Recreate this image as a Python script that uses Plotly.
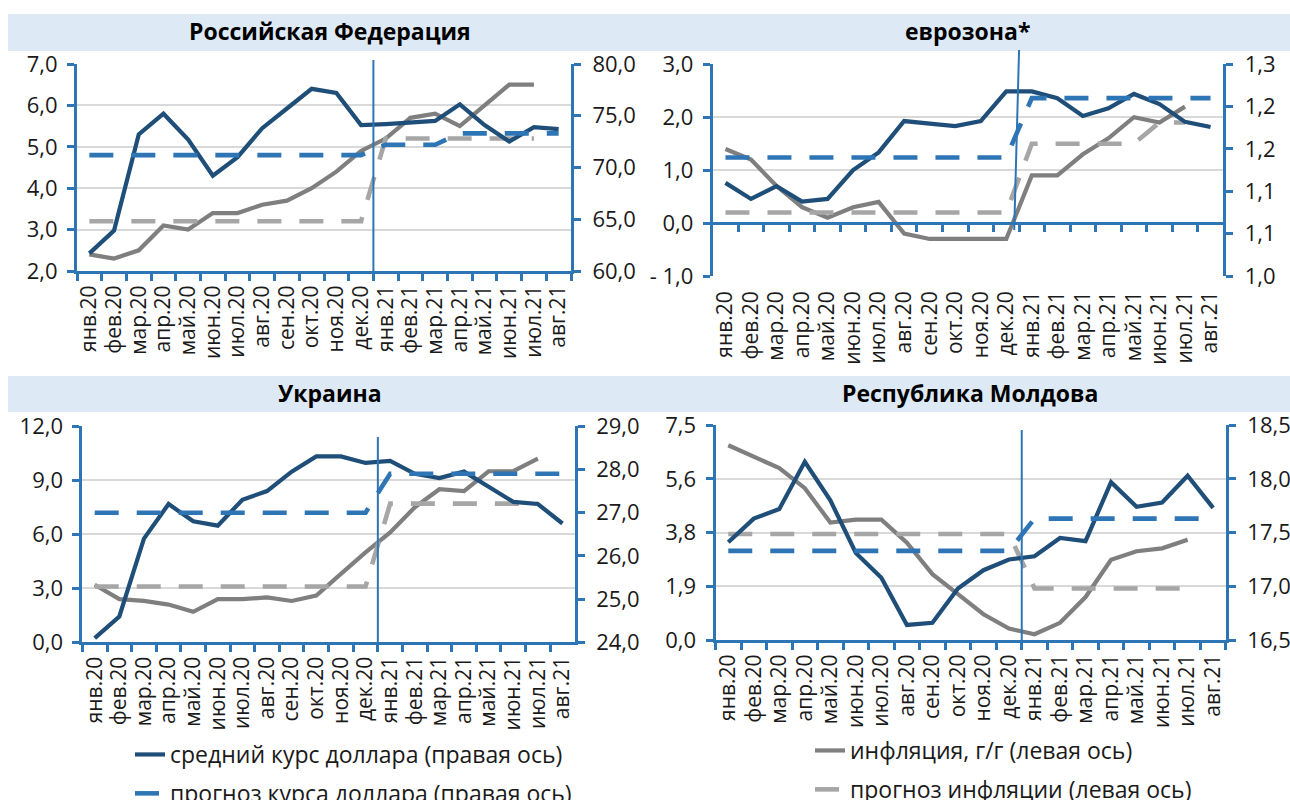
import plotly.graph_objects as go

# ---------------- data ----------------
months = ["янв.20", "фев.20", "мар.20", "апр.20", "май.20", "июн.20", "июл.20", "авг.20",
          "сен.20", "окт.20", "ноя.20", "дек.20", "янв.21", "фев.21", "мар.21", "апр.21",
          "май.21", "июн.21", "июл.21", "авг.21"]

# Russia
ru_usd = [61.7, 63.9, 73.2, 75.2, 72.7, 69.2, 71.0, 73.8, 75.7, 77.6, 77.2, 74.1,
          74.2, 74.4, 74.5, 76.1, 74.1, 72.5, 73.9, 73.7]
ru_usd_fc = [71.2, 71.2, 71.2, 71.2, 71.2, 71.2, 71.2, 71.2, 71.2, 71.2, 71.2, 71.2,
             72.2, 72.2, 72.2, 73.3, 73.3, 73.3, 73.3, 73.3]
ru_infl = [2.4, 2.3, 2.5, 3.1, 3.0, 3.4, 3.4, 3.6, 3.7, 4.0, 4.4, 4.9,
           5.2, 5.7, 5.8, 5.5, 6.0, 6.5, 6.5, None]
ru_infl_fc = [3.2, 3.2, 3.2, 3.2, 3.2, 3.2, 3.2, 3.2, 3.2, 3.2, 3.2, 3.2,
              5.2, 5.2, 5.2, 5.2, 5.2, 5.2, 5.2, None]

# Euro area
eu_usd = [1.110, 1.091, 1.106, 1.088, 1.091, 1.125, 1.146, 1.183, 1.180, 1.177, 1.183, 1.218,
          1.218, 1.210, 1.189, 1.198, 1.215, 1.203, 1.182, 1.176]
eu_usd_fc = [1.140, 1.140, 1.140, 1.140, 1.140, 1.140, 1.140, 1.140, 1.140, 1.140, 1.140, 1.140,
             1.210, 1.210, 1.210, 1.210, 1.210, 1.210, 1.210, 1.210]
eu_infl = [1.4, 1.2, 0.7, 0.3, 0.1, 0.3, 0.4, -0.2, -0.3, -0.3, -0.3, -0.3,
           0.9, 0.9, 1.3, 1.6, 2.0, 1.9, 2.2, None]
eu_infl_fc = [0.2, 0.2, 0.2, 0.2, 0.2, 0.2, 0.2, 0.2, 0.2, 0.2, 0.2, 0.2,
              1.5, 1.5, 1.5, 1.5, 1.5, 1.9, 1.9, None]

# Ukraine
ua_usd = [24.1, 24.6, 26.4, 27.2, 26.8, 26.7, 27.3, 27.5, 27.95, 28.3, 28.3, 28.15,
          28.2, 27.9, 27.8, 27.95, 27.6, 27.25, 27.2, 26.75]
ua_usd_fc = [27.0, 27.0, 27.0, 27.0, 27.0, 27.0, 27.0, 27.0, 27.0, 27.0, 27.0, 27.0,
             27.9, 27.9, 27.9, 27.9, 27.9, 27.9, 27.9, 27.9]
ua_infl = [3.2, 2.4, 2.3, 2.1, 1.7, 2.4, 2.4, 2.5, 2.3, 2.6, 3.8, 5.0,
           6.1, 7.5, 8.5, 8.4, 9.5, 9.5, 10.2, None]
ua_infl_fc = [3.1, 3.1, 3.1, 3.1, 3.1, 3.1, 3.1, 3.1, 3.1, 3.1, 3.1, 3.1,
              7.7, 7.7, 7.7, 7.7, 7.7, 7.7, 7.7, None]

# Moldova
md_usd = [17.41, 17.63, 17.72, 18.16, 17.80, 17.31, 17.08, 16.64, 16.66, 16.98, 17.15, 17.25,
          17.28, 17.45, 17.42, 17.97, 17.74, 17.78, 18.03, 17.73]
md_usd_fc = [17.33, 17.33, 17.33, 17.33, 17.33, 17.33, 17.33, 17.33, 17.33, 17.33, 17.33, 17.33,
             17.63, 17.63, 17.63, 17.63, 17.63, 17.63, 17.63, 17.63]
md_infl = [6.8, 6.4, 6.0, 5.3, 4.1, 4.2, 4.2, 3.4, 2.3, 1.6, 0.9, 0.4,
           0.2, 0.6, 1.5, 2.8, 3.1, 3.2, 3.5, None]
md_infl_fc = [3.7, 3.7, 3.7, 3.7, 3.7, 3.7, 3.7, 3.7, 3.7, 3.7, 3.7, 3.7,
              1.8, 1.8, 1.8, 1.8, 1.8, 1.8, 1.8, None]

titles = ["Российская Федерация", "еврозона*", "Украина", "Республика Молдова"]

ru_left_vals = [2, 3, 4, 5, 6, 7]
ru_left_text = ["2,0", "3,0", "4,0", "5,0", "6,0", "7,0"]
ru_right_vals = [60, 65, 70, 75, 80]
ru_right_text = ["60,0", "65,0", "70,0", "75,0", "80,0"]
eu_left_vals = [-1, 0, 1, 2, 3]
eu_left_text = ["- 1,0", "0,0", "1,0", "2,0", "3,0"]
eu_right_vals = [1.0, 1.05, 1.10, 1.15, 1.20, 1.25]
eu_right_text = ["1,0", "1,1", "1,1", "1,2", "1,2", "1,3"]
ua_left_vals = [0, 3, 6, 9, 12]
ua_left_text = ["0,0", "3,0", "6,0", "9,0", "12,0"]
ua_right_vals = [24, 25, 26, 27, 28, 29]
ua_right_text = ["24,0", "25,0", "26,0", "27,0", "28,0", "29,0"]
md_left_vals = [0, 1.875, 3.75, 5.625, 7.5]
md_left_text = ["0,0", "1,9", "3,8", "5,6", "7,5"]
md_right_vals = [16.5, 17.0, 17.5, 18.0, 18.5]
md_right_text = ["16,5", "17,0", "17,5", "18,0", "18,5"]

legend_names = ["средний курс доллара (правая ось)", "прогноз курса доллара (правая ось)",
                "инфляция, г/г (левая ось)", "прогноз инфляции (левая ось)"]

# ---------------- style ----------------
W, H = 1290, 800
NAVY, BLUE, GREY, LGREY = "#1f4e79", "#2e75b6", "#7f7f7f", "#a6a6a6"
AXIS, GRID, BAR = "#2e75b6", "#d9d9d9", "#dde9f5"
FONT = "Open Sans"
TXT = "#1a1a1a"
DASH = "24px,18px"


def fx(p):
    return p / W


def fy(p):
    return 1 - p / H


panels = [
    dict(x="x", yl="y", yr="y2", xd=(77, 571), yd=(271, 64),
         lr=(2, 7), lv=ru_left_vals, lt=ru_left_text, rr=(60, 80), rv=ru_right_vals, rt=ru_right_text,
         usd=ru_usd, usd_fc=ru_usd_fc, infl=ru_infl, infl_fc=ru_infl_fc,
         vline=((0.6, 60), (0.6, 271))),
    dict(x="x2", yl="y3", yr="y4", xd=(712.7, 1223.3), yd=(276, 64.3),
         lr=(-1, 3), lv=eu_left_vals, lt=eu_left_text, rr=(1.0, 1.25), rv=eu_right_vals, rt=eu_right_text,
         usd=eu_usd, usd_fc=eu_usd_fc, infl=eu_infl, infl_fc=eu_infl_fc,
         vline=((0.6, 50), (0.5905, 230))),
    dict(x="x3", yl="y5", yr="y6", xd=(82.4, 574.8), yd=(642.4, 426.2),
         lr=(0, 12), lv=ua_left_vals, lt=ua_left_text, rr=(24, 29), rv=ua_right_vals, rt=ua_right_text,
         usd=ua_usd, usd_fc=ua_usd_fc, infl=ua_infl, infl_fc=ua_infl_fc,
         vline=((0.6, 437), (0.6, 642.4))),
    dict(x="x4", yl="y7", yr="y8", xd=(715.5, 1225.9), yd=(640, 425.2),
         lr=(0, 7.5), lv=md_left_vals, lt=md_left_text, rr=(16.5, 18.5), rv=md_right_vals, rt=md_right_text,
         usd=md_usd, usd_fc=md_usd_fc, infl=md_infl, infl_fc=md_infl_fc,
         vline=((0.6, 430), (0.6, 640))),
]

fig = go.Figure()
layout = {}
shapes = []
annotations = []


def axname(ref):
    return ref[0] + "axis" + ref[1:]


for k, p in enumerate(panels):
    first = k == 0
    fig.add_trace(go.Scatter(x=months, y=p["infl"], xaxis=p["x"], yaxis=p["yl"], mode="lines",
                             line=dict(color=GREY, width=4.2), name=legend_names[2],
                             legend="legend2", legendgroup="g3", showlegend=first))
    fig.add_trace(go.Scatter(x=months, y=p["infl_fc"], xaxis=p["x"], yaxis=p["yl"], mode="lines",
                             line=dict(color=LGREY, width=4.6, dash=DASH), name=legend_names[3],
                             legend="legend2", legendgroup="g4", showlegend=first))
    fig.add_trace(go.Scatter(x=months, y=p["usd"], xaxis=p["x"], yaxis=p["yr"], mode="lines",
                             line=dict(color=NAVY, width=4.2), name=legend_names[0],
                             legend="legend", legendgroup="g1", showlegend=first))
    fig.add_trace(go.Scatter(x=months, y=p["usd_fc"], xaxis=p["x"], yaxis=p["yr"], mode="lines",
                             line=dict(color=BLUE, width=4.6, dash=DASH), name=legend_names[1],
                             legend="legend", legendgroup="g2", showlegend=first))

    is_euro = k == 1
    xa = dict(type="category", categoryorder="array", categoryarray=months,
              tickmode="array", tickvals=months, ticktext=months,
              domain=[fx(p["xd"][0]), fx(p["xd"][1])], anchor=p["yl"],
              range=[-0.5, len(months) - 0.5],
              showline=not is_euro, linecolor=AXIS, linewidth=3,
              ticks="" if is_euro else "outside", tickson="boundaries", ticklen=7, tickwidth=3,
              tickcolor=AXIS, tickangle=-90, tickfont=dict(size=21, color=TXT, family=FONT),
              showgrid=False, zeroline=False, ticklabelstandoff=3 if not is_euro else 10)
    layout[axname(p["x"])] = xa
    ya = dict(domain=[fy(p["yd"][0]), fy(p["yd"][1])], anchor=p["x"], range=list(p["lr"]),
              tickvals=p["lv"], ticktext=p["lt"], showline=True, linecolor=AXIS, linewidth=3,
              ticks="outside", ticklen=7, tickwidth=3, tickcolor=AXIS,
              tickfont=dict(size=22, color=TXT, family=FONT), ticklabelstandoff=5,
              showgrid=True, gridcolor=GRID, gridwidth=2, zeroline=False)
    layout[axname(p["yl"])] = ya
    yb = dict(domain=[fy(p["yd"][0]), fy(p["yd"][1])], anchor=p["x"], overlaying=p["yl"], side="right",
              range=list(p["rr"]), tickvals=p["rv"], ticktext=p["rt"], showline=True, linecolor=AXIS,
              linewidth=3, ticks="outside", ticklen=7, tickwidth=3, tickcolor=AXIS,
              tickfont=dict(size=22, color=TXT, family=FONT), ticklabelstandoff=7,
              showgrid=False, zeroline=False)
    layout[axname(p["yr"])] = yb

    # vertical separator between 2020 and 2021 (boundary dec.20 / jan.21)
    (xt, yt), (xb, yb_) = p["vline"]
    shapes.append(dict(type="line", xref=p["x"] + " domain", yref="paper",
                       x0=xt, y0=fy(yt), x1=xb, y1=fy(yb_),
                       line=dict(color=BLUE, width=2), layer="above"))

# zero-line x axis of the euro panel, drawn at y = 0
pe = panels[1]
lo, hi = pe["lr"]
d0, d1 = fy(pe["yd"][0]), fy(pe["yd"][1])
zero_pos = d0 + (0 - lo) / (hi - lo) * (d1 - d0)
layout["xaxis5"] = dict(domain=[fx(pe["xd"][0]), fx(pe["xd"][1])], overlaying="x2", anchor="free",
                        position=zero_pos, range=[-0.5, len(months) - 0.5],
                        tickvals=[i + 0.5 for i in range(len(months) - 1)],
                        showticklabels=False, showline=True, linecolor=AXIS, linewidth=3,
                        ticks="outside", ticklen=7, tickwidth=3, tickcolor=AXIS,
                        showgrid=False, zeroline=False)
fig.add_trace(go.Scatter(x=[], y=[], xaxis="x5", yaxis="y3", showlegend=False, hoverinfo="skip"))

# title bars
for top, bot in [(14, 51), (376, 412)]:
    shapes.append(dict(type="rect", xref="paper", yref="paper", x0=fx(8), x1=1,
                       y0=fy(bot), y1=fy(top), fillcolor=BAR, line=dict(width=0), layer="below"))

title_pos = [(330, 31), (968, 31), (330, 393), (970, 393)]
for t, (cx, cy) in zip(titles, title_pos):
    annotations.append(dict(text=t, x=fx(cx), y=fy(cy), xref="paper", yref="paper",
                            showarrow=False, xanchor="center", yanchor="middle",
                            font=dict(size=23, color="#000000", family=FONT, weight="bold")))

fig.update_layout(
    width=W, height=H, margin=dict(l=0, r=0, t=0, b=0, autoexpand=False),
    paper_bgcolor="white", plot_bgcolor="rgba(0,0,0,0)",
    font=dict(family=FONT, color=TXT),
    shapes=shapes, annotations=annotations,
    legend=dict(x=fx(130), y=fy(733), xanchor="left", yanchor="top", orientation="v",
                font=dict(size=23, color=TXT, family=FONT), bgcolor="rgba(0,0,0,0)",
                tracegroupgap=6, traceorder="grouped"),
    legend2=dict(x=fx(810), y=fy(729), xanchor="left", yanchor="top", orientation="v",
                 font=dict(size=23, color=TXT, family=FONT), bgcolor="rgba(0,0,0,0)",
                 tracegroupgap=6, traceorder="grouped"),
    **layout,
)

fig.write_html(
    "out.html",
    config={"displayModeBar": False},
    post_script="document.body.style.margin='0px';"
                "document.documentElement.style.overflow='hidden';"
                "document.body.style.overflow='hidden';",
)
